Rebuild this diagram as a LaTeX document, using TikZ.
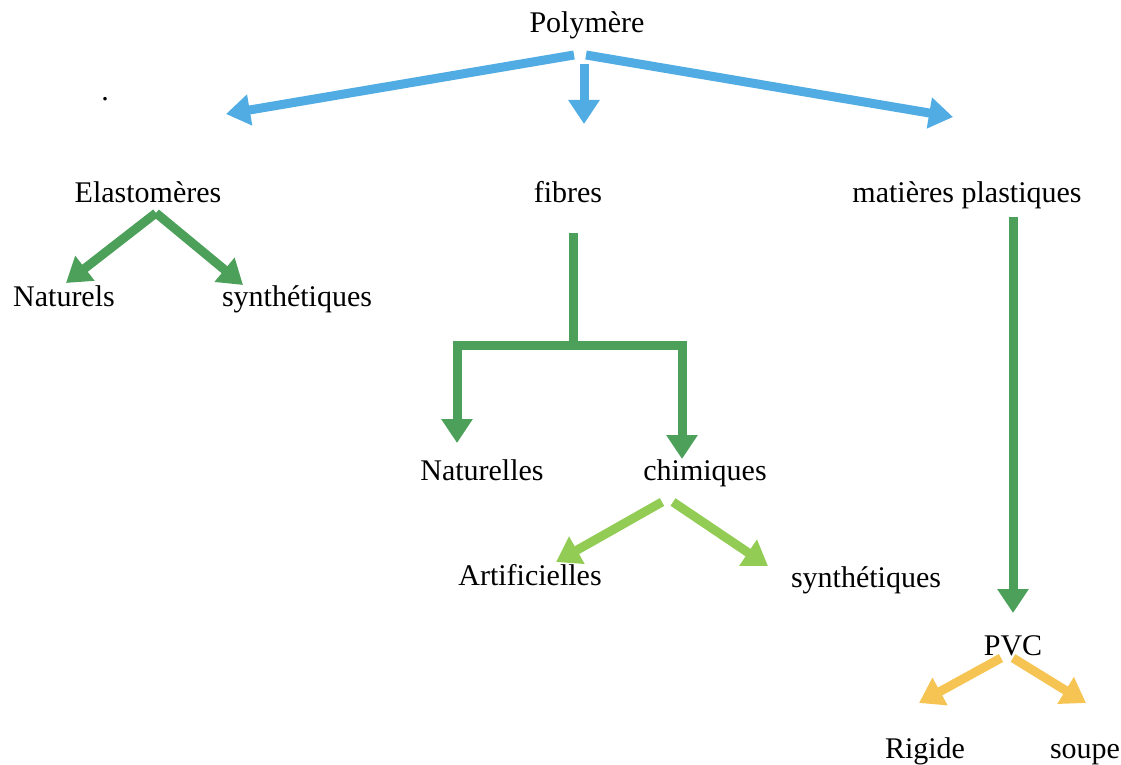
\documentclass[tikz,border=0pt]{standalone}
\usepackage{fontspec}
\setmainfont{Liberation Serif}
\usetikzlibrary{arrows.meta}
\definecolor{cblue}{RGB}{80,172,226}
\definecolor{cgreen}{RGB}{76,160,90}
\definecolor{clight}{RGB}{146,204,84}
\definecolor{corange}{RGB}{246,196,82}
\tikzset{
  lbl/.style={anchor=base,inner sep=0pt,font=\fontsize{30}{36}\selectfont},
  arr/.style={line width=9pt,-{Triangle[length=24pt,width=30pt]}},
  seg/.style={line width=9pt},
}
\begin{document}
\begin{tikzpicture}[x=1pt,y=-1pt]
\useasboundingbox (0,0) rectangle (1121,765);
% labels
\node[lbl] (poly) at (587,33) {Polymère};
\node[lbl] (dot) at (105,101) {.};
\node[lbl] (elast) at (148,202) {Elastomères};
\node[lbl] (fib) at (568,202) {fibres};
\node[lbl] (mat) at (967,202) {matières plastiques};
\node[lbl] (nat1) at (64,306) {Naturels};
\node[lbl] (syn1) at (297,306) {synthétiques};
\node[lbl] (nat2) at (482,480) {Naturelles};
\node[lbl] (chim) at (705,480) {chimiques};
\node[lbl] (art) at (530,585) {Artificielles};
\node[lbl] (syn2) at (866,587) {synthétiques};
\node[lbl] (pvc) at (1013,655) {PVC};
\node[lbl] (rig) at (925,758) {Rigide};
\node[lbl] (sou) at (1085,758) {soupe};
% coordinates
\coordinate (pL) at (574,55);
\coordinate (pR) at (586,55);
\coordinate (pD) at (584,64);
\coordinate (tL) at (226,114);
\coordinate (tD) at (584,124);
\coordinate (tR) at (953,117);
\coordinate (eA) at (156,213);
\coordinate (eL) at (66,283);
\coordinate (eR) at (243,285);
\coordinate (fTop) at (573,233);
\coordinate (fMid) at (573,345);
\coordinate (fL) at (457,345);
\coordinate (fR) at (682,345);
\coordinate (fLt) at (457,443);
\coordinate (fRt) at (682,459);
\coordinate (mTop) at (1013,217);
\coordinate (mT) at (1013,613);
\coordinate (cL) at (662,502);
\coordinate (cR) at (673,502);
\coordinate (cLt) at (556,562);
\coordinate (cRt) at (768,566);
\coordinate (vL) at (1001,658);
\coordinate (vR) at (1013,658);
\coordinate (vLt) at (919,703);
\coordinate (vRt) at (1086,703);
% blue
\draw[arr,cblue] (pL) -- (tL);
\draw[arr,cblue] (pD) -- (tD);
\draw[arr,cblue] (pR) -- (tR);
% dark green
\draw[arr,cgreen] (eA) -- (eL);
\draw[arr,cgreen] (eA) -- (eR);
\draw[seg,cgreen] (fTop) -- (fMid);
\draw[arr,cgreen] (fMid) -- (fL) -- (fLt);
\draw[arr,cgreen] (fMid) -- (fR) -- (fRt);
\draw[arr,cgreen] (mTop) -- (mT);
% light green
\draw[arr,clight] (cL) -- (cLt);
\draw[arr,clight] (cR) -- (cRt);
% orange
\draw[arr,corange] (vL) -- (vLt);
\draw[arr,corange] (vR) -- (vRt);
\end{tikzpicture}
\end{document}
